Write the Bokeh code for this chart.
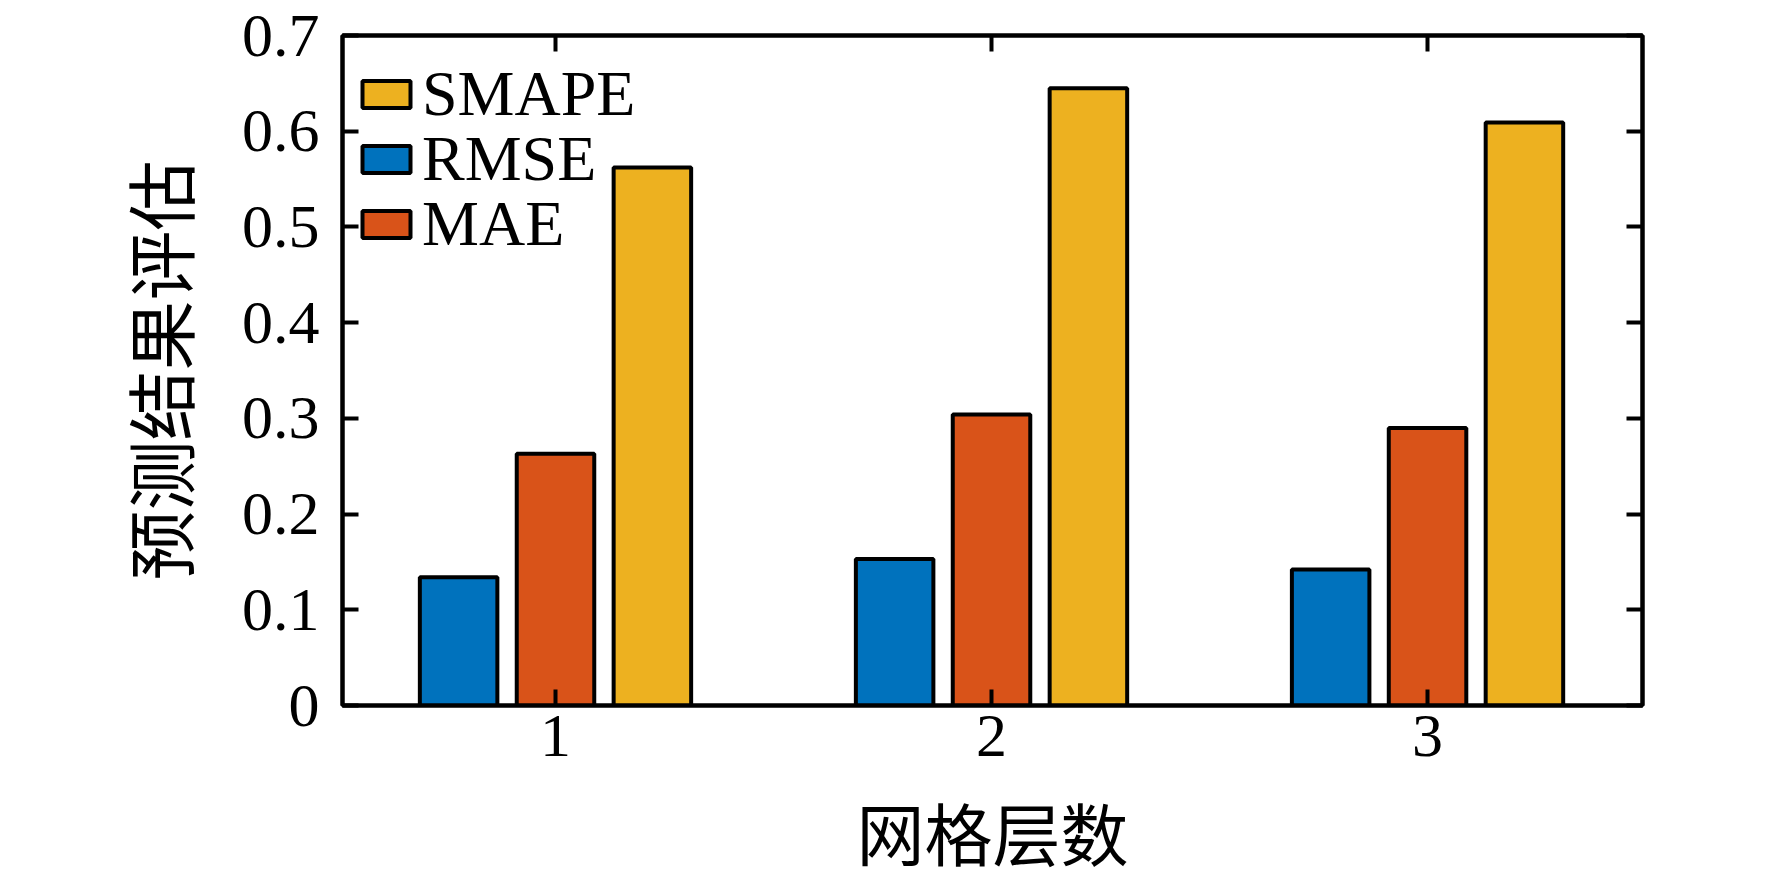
from bokeh.plotting import figure
from bokeh.models import Range1d, FixedTicker, LinearAxis, Legend, LegendItem
from bokeh.embed import file_html
from bokeh.resources import INLINE

# ---- data ----
groups = [1, 2, 3]
group_labels = ["1", "2", "3"]
series_names = ["RMSE", "MAE", "SMAPE"]
rmse = [0.134, 0.153, 0.142]
mae = [0.263, 0.304, 0.290]
smape = [0.562, 0.645, 0.609]
series_colors = ["#0072BD", "#D95319", "#EDB120"]
legend_order = ["SMAPE", "RMSE", "MAE"]
y_ticks = [0, 0.1, 0.2, 0.3, 0.4, 0.5, 0.6, 0.7]
y_tick_labels = ["0", "0.1", "0.2", "0.3", "0.4", "0.5", "0.6", "0.7"]
x_title = "网格层数"
y_title = "预测结果评估"

# ---- style ----
SERIF = "Liberation Serif"
CJK = "Noto Sans CJK SC"
LW = 4
slot = 2.0 / 9.0          # grouped bar slot width
bar_w = 0.8 * slot
FRAME_H = 670
LEG_X = 14                # legend left offset inside frame (px)
LEG_ROW = 65              # legend row pitch (px)
LEG_FIRST = 574           # first legend entry's offset from frame bottom (px)

p = figure(frame_width=1300, frame_height=FRAME_H,
           min_border_left=342, min_border_right=114,
           min_border_top=35, min_border_bottom=159,
           x_range=Range1d(0.5115, 3.493), y_range=Range1d(0, 0.7),
           output_backend="svg", toolbar_location=None,
           background_fill_color="white", border_fill_color="white")
p.xgrid.visible = False
p.ygrid.visible = False
p.outline_line_color = "black"
p.outline_line_width = LW

values = [rmse, mae, smape]
renderers = {}
for i, (name, vals, col) in enumerate(zip(series_names, values, series_colors)):
    off = (i - 1) * slot
    xs = [g + off for g in groups]
    r = p.vbar(x=xs, top=vals, width=bar_w, bottom=0,
               fill_color=col, line_color="black", line_width=LW)
    renderers[name] = r


def style_axis(ax, show_labels):
    ax.axis_line_color = "black"
    ax.axis_line_width = LW
    ax.major_tick_line_color = "black"
    ax.major_tick_line_width = LW
    ax.major_tick_in = 16
    ax.major_tick_out = 0
    ax.minor_tick_line_color = None
    if show_labels:
        ax.major_label_text_font = SERIF
        ax.major_label_text_font_size = "62px"
        ax.major_label_text_color = "black"
    else:
        ax.major_label_text_font_size = "0px"
        ax.major_label_text_color = None


xticker = FixedTicker(ticks=groups)
yticker = FixedTicker(ticks=y_ticks)
xover = {g: l for g, l in zip(groups, group_labels)}
yover = {t: l for t, l in zip(y_ticks, y_tick_labels)}

xa = p.xaxis[0]
xa.ticker = xticker
xa.major_label_overrides = xover
style_axis(xa, True)
xa.major_label_standoff = 10
xa.axis_label = x_title
xa.axis_label_text_font = CJK
xa.axis_label_text_font_size = "68px"
xa.axis_label_text_font_style = "normal"
xa.axis_label_text_color = "black"
xa.axis_label_standoff = 23

ya = p.yaxis[0]
ya.ticker = yticker
ya.major_label_overrides = yover
style_axis(ya, True)
ya.major_label_standoff = 23
ya.axis_label = y_title
ya.axis_label_text_font = CJK
ya.axis_label_text_font_size = "70px"
ya.axis_label_text_font_style = "normal"
ya.axis_label_text_color = "black"
ya.axis_label_standoff = 30

top_ax = LinearAxis(ticker=FixedTicker(ticks=groups))
style_axis(top_ax, False)
p.add_layout(top_ax, "above")
right_ax = LinearAxis(ticker=FixedTicker(ticks=y_ticks))
style_axis(right_ax, False)
p.add_layout(right_ax, "right")

# one single-entry legend per series so the row pitch can be set exactly
for k, name in enumerate(legend_order):
    leg = Legend(items=[LegendItem(label=name, renderers=[renderers[name]])],
                 location=(LEG_X, LEG_FIRST - k * LEG_ROW), margin=0, padding=0,
                 glyph_width=60, glyph_height=34, label_standoff=6,
                 label_text_font=SERIF, label_text_font_size="64px",
                 label_text_color="black",
                 border_line_color=None, background_fill_alpha=0.0)
    p.add_layout(leg)

open("out.html", "w").write(file_html(p, INLINE))
